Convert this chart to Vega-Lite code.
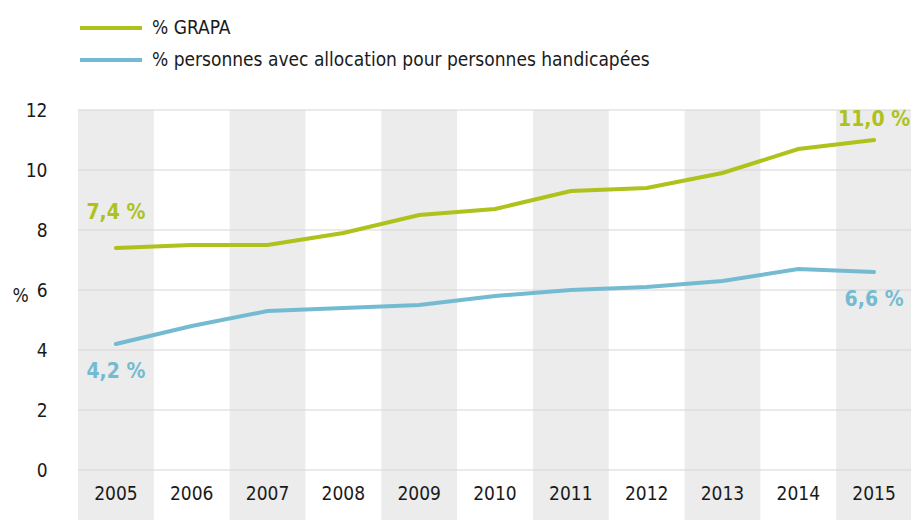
{
  "$schema": "https://vega.github.io/schema/vega-lite/v6.json",
  "width": 834,
  "height": 360,
  "autosize": {"type": "none"},
  "padding": {"left": 78, "top": 110, "right": 0, "bottom": 50},
  "background": "white",
  "config": {
    "view": {"stroke": null},
    "font": "DejaVu Sans Condensed",
    "text": {"font": "DejaVu Sans Condensed"}
  },
  "datasets": {
    "series": [
      {"year": "2005", "series": "% GRAPA", "value": 7.4},
      {"year": "2006", "series": "% GRAPA", "value": 7.5},
      {"year": "2007", "series": "% GRAPA", "value": 7.5},
      {"year": "2008", "series": "% GRAPA", "value": 7.9},
      {"year": "2009", "series": "% GRAPA", "value": 8.5},
      {"year": "2010", "series": "% GRAPA", "value": 8.7},
      {"year": "2011", "series": "% GRAPA", "value": 9.3},
      {"year": "2012", "series": "% GRAPA", "value": 9.4},
      {"year": "2013", "series": "% GRAPA", "value": 9.9},
      {"year": "2014", "series": "% GRAPA", "value": 10.7},
      {"year": "2015", "series": "% GRAPA", "value": 11.0},
      {"year": "2005", "series": "% personnes avec allocation pour personnes handicapées", "value": 4.2},
      {"year": "2006", "series": "% personnes avec allocation pour personnes handicapées", "value": 4.8},
      {"year": "2007", "series": "% personnes avec allocation pour personnes handicapées", "value": 5.3},
      {"year": "2008", "series": "% personnes avec allocation pour personnes handicapées", "value": 5.4},
      {"year": "2009", "series": "% personnes avec allocation pour personnes handicapées", "value": 5.5},
      {"year": "2010", "series": "% personnes avec allocation pour personnes handicapées", "value": 5.8},
      {"year": "2011", "series": "% personnes avec allocation pour personnes handicapées", "value": 6.0},
      {"year": "2012", "series": "% personnes avec allocation pour personnes handicapées", "value": 6.1},
      {"year": "2013", "series": "% personnes avec allocation pour personnes handicapées", "value": 6.3},
      {"year": "2014", "series": "% personnes avec allocation pour personnes handicapées", "value": 6.7},
      {"year": "2015", "series": "% personnes avec allocation pour personnes handicapées", "value": 6.6}
    ],
    "grid": [{"v": 0}, {"v": 2}, {"v": 4}, {"v": 6}, {"v": 8}, {"v": 10}, {"v": 12}],
    "labels": [
      {"year": "2005", "series": "% GRAPA", "value": 7.4, "label": "7,4 %"},
      {"year": "2015", "series": "% GRAPA", "value": 11.0, "label": "11,0 %"},
      {"year": "2005", "series": "% personnes avec allocation pour personnes handicapées", "value": 4.2, "label": "4,2 %"},
      {"year": "2015", "series": "% personnes avec allocation pour personnes handicapées", "value": 6.6, "label": "6,6 %"}
    ]
  },
  "layer": [
    {
      "data": {"name": "series"},
      "transform": [
        {"filter": "datum.series === '% GRAPA' && toNumber(datum.year) % 2 === 1"}
      ],
      "mark": {"type": "rect", "color": "#ebeceb", "clip": false},
      "encoding": {
        "x": {
          "field": "year", "type": "ordinal",
          "scale": {"paddingInner": 0, "paddingOuter": 0},
          "axis": {
            "title": null, "domain": false, "ticks": false,
            "labelAngle": 0, "labelFont": "DejaVu Sans Condensed",
            "labelFontSize": 19, "labelColor": "#1a1a1a",
            "labelPadding": 14
          }
        },
        "y": {"datum": 12, "type": "quantitative"},
        "y2": {"datum": -1.7}
      }
    },
    {
      "data": {"name": "grid"},
      "mark": {"type": "rule", "color": "#d6d6d6", "strokeWidth": 1.2},
      "encoding": {
        "y": {
          "field": "v", "type": "quantitative",
          "scale": {"domain": [0, 12], "nice": false, "zero": false},
          "axis": {
            "values": [0, 2, 4, 6, 8, 10, 12],
            "grid": false, "domain": false, "ticks": false,
            "labelFont": "DejaVu Sans Condensed",
            "labelFontSize": 19, "labelColor": "#1a1a1a",
            "labelPadding": 31,
            "title": "%", "titleAngle": 0, "titleFont": "DejaVu Sans Condensed",
            "titleFontSize": 19, "titleFontWeight": "normal", "titleColor": "#1a1a1a",
            "titleX": -58, "titleY": 195, "titleAlign": "center"
          }
        }
      }
    },
    {
      "data": {"name": "series"},
      "mark": {"type": "line", "strokeWidth": 4, "strokeCap": "round"},
      "encoding": {
        "x": {"field": "year", "type": "ordinal"},
        "y": {"field": "value", "type": "quantitative"},
        "color": {
          "field": "series", "type": "nominal",
          "scale": {
            "domain": ["% GRAPA", "% personnes avec allocation pour personnes handicapées"],
            "range": ["#aec21b", "#74bbd2"]
          },
          "legend": {
            "title": null, "orient": "none", "legendX": 11, "legendY": -104,
            "symbolType": "M-1.55,0H1.55", "symbolStrokeWidth": 4, "symbolSize": 1600,
            "labelFont": "DejaVu Sans Condensed", "labelFontSize": 19,
            "labelColor": "#1a1a1a", "labelOffset": 19, "rowPadding": 0,
            "labelLimit": 0, "symbolOpacity": 1
          }
        }
      }
    },
    {
      "data": {"name": "labels"},
      "transform": [{"filter": "datum.series === '% GRAPA' && datum.year === '2005'"}],
      "mark": {"type": "text", "fontWeight": "bold", "fontSize": 21, "dy": -35, "color": "#aec21b"},
      "encoding": {
        "x": {"field": "year", "type": "ordinal"},
        "y": {"field": "value", "type": "quantitative"},
        "text": {"field": "label"}
      }
    },
    {
      "data": {"name": "labels"},
      "transform": [{"filter": "datum.series === '% GRAPA' && datum.year === '2015'"}],
      "mark": {"type": "text", "fontWeight": "bold", "fontSize": 21, "dy": -20, "color": "#aec21b"},
      "encoding": {
        "x": {"field": "year", "type": "ordinal"},
        "y": {"field": "value", "type": "quantitative"},
        "text": {"field": "label"}
      }
    },
    {
      "data": {"name": "labels"},
      "transform": [{"filter": "datum.series !== '% GRAPA'"}],
      "mark": {"type": "text", "fontWeight": "bold", "fontSize": 21, "dy": 28, "color": "#74bbd2"},
      "encoding": {
        "x": {"field": "year", "type": "ordinal"},
        "y": {"field": "value", "type": "quantitative"},
        "text": {"field": "label"}
      }
    }
  ]
}
